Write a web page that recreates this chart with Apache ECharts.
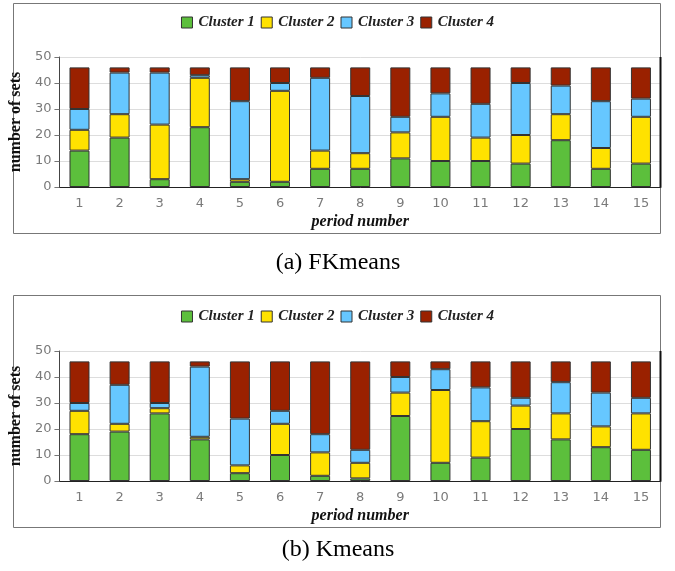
<!DOCTYPE html>
<html>
<head>
<meta charset="utf-8">
<script src="https://cdn.jsdelivr.net/npm/echarts@6/dist/echarts.min.js"></script>
<style>
  html, body { margin: 0; padding: 0; background: #fff; }
  #chart { width: 675px; height: 571px; }
</style>
</head>
<body>
<div id="chart"></div>
<script>
// Period numbers on the x axis
const periods = ['1','2','3','4','5','6','7','8','9','10','11','12','13','14','15'];
const clusterNames = ['Cluster 1', 'Cluster 2', 'Cluster 3', 'Cluster 4'];
const clusterColors = ['#5cbf3c', '#ffe200', '#66c7ff', '#9a2100'];

// (a) FKmeans: number of sets per cluster in each period
const fk_c1 = [14, 19, 3, 23, 2, 2, 7, 7, 11, 10, 10, 9, 18, 7, 9];
const fk_c2 = [8, 9, 21, 19, 1, 35, 7, 6, 10, 17, 9, 11, 10, 8, 18];
const fk_c3 = [8, 16, 20, 1, 30, 3, 28, 22, 6, 9, 13, 20, 11, 18, 7];
const fk_c4 = [16, 2, 2, 3, 13, 6, 4, 11, 19, 10, 14, 6, 7, 13, 12];

// (b) Kmeans: number of sets per cluster in each period
const km_c1 = [18, 19, 26, 16, 3, 10, 2, 1, 25, 7, 9, 20, 16, 13, 12];
const km_c2 = [9, 3, 2, 1, 3, 12, 9, 6, 9, 28, 14, 9, 10, 8, 14];
const km_c3 = [3, 15, 2, 27, 18, 5, 7, 5, 6, 8, 13, 3, 12, 13, 6];
const km_c4 = [16, 9, 16, 2, 22, 19, 28, 34, 6, 3, 10, 14, 8, 12, 14];

const yTicks = { min: 0, max: 50, interval: 10 };

const tickFont = { color: '#7a7a7a', fontSize: 13, fontFamily: 'DejaVu Sans' };
const serif = 'Liberation Serif';

function xAxisFor(gridIndex) {
  return {
    type: 'category', gridIndex, data: periods,
    axisLine: { lineStyle: { color: '#222', width: 1 } },
    axisTick: { alignWithLabel: true, length: 5, lineStyle: { color: '#777' } },
    axisLabel: Object.assign({ margin: 10 }, tickFont),
    name: 'period number', nameLocation: 'middle', nameGap: 27,
    nameTextStyle: { fontFamily: serif, fontStyle: 'italic', fontWeight: 'bold', fontSize: 16, color: '#111' }
  };
}
function yAxisFor(gridIndex) {
  return Object.assign({
    type: 'value', gridIndex,
    axisLine: { show: true, lineStyle: { color: '#444', width: 1 } },
    axisTick: { show: true, length: 5, lineStyle: { color: '#777' } },
    axisLabel: Object.assign({ margin: 8 }, tickFont),
    splitLine: { lineStyle: { color: '#ddd', width: 1 } },
    name: 'number of sets', nameLocation: 'middle', nameGap: 27,
    nameTextStyle: { fontFamily: serif, fontWeight: 'bold', fontSize: 16, color: '#111' }
  }, yTicks);
}

function stackSeries(values, axisIndex, stackName) {
  return values.map((arr, i) => ({
    name: clusterNames[i], type: 'bar', stack: stackName,
    xAxisIndex: axisIndex, yAxisIndex: axisIndex,
    data: arr, barWidth: 20,
    itemStyle: { color: clusterColors[i], borderColor: '#333', borderWidth: 1 }
  }));
}

function legendAt(top) {
  return {
    top, left: 'center', data: clusterNames,
    itemWidth: 11, itemHeight: 11, itemGap: 6,
    icon: 'rect',
    itemStyle: { borderColor: '#333', borderWidth: 1 },
    textStyle: { fontFamily: serif, fontStyle: 'italic', fontWeight: 'bold', fontSize: 15, color: '#222', padding: [0, 0, 0, 1] }
  };
}

function frame(top, height) {
  return { type: 'rect', shape: { x: 13.5, y: top + 0.5, width: 647, height }, style: { fill: 'none', stroke: '#777', lineWidth: 1 }, silent: true, z: -1 };
}
function caption(text, y) {
  return { type: 'text', x: 338, y, style: { text, fill: '#000', font: '24px "Liberation Serif"', textAlign: 'center', textVerticalAlign: 'middle' }, silent: true };
}
function rightEdge(top, height) {
  return { type: 'line', shape: { x1: 660.5, y1: top, x2: 660.5, y2: top + height }, style: { stroke: '#111', lineWidth: 2 }, silent: true, z: 10 };
}

const chart = echarts.init(document.getElementById('chart'), null, { renderer: 'canvas' });
chart.setOption({
  animation: false,
  backgroundColor: '#fff',
  legend: [legendAt(10), legendAt(304)],
  grid: [
    { left: 57, right: 14, top: 57, height: 130 },
    { left: 57, right: 14, top: 351, height: 130 }
  ],
  xAxis: [xAxisFor(0), xAxisFor(1)],
  yAxis: [yAxisFor(0), yAxisFor(1)],
  series: [
    ...stackSeries([fk_c1, fk_c2, fk_c3, fk_c4], 0, 'fk'),
    ...stackSeries([km_c1, km_c2, km_c3, km_c4], 1, 'km')
  ],
  graphic: [
    frame(3, 230), frame(295, 232),
    rightEdge(57, 130), rightEdge(351, 130),
    caption('(a) FKmeans', 263), caption('(b) Kmeans', 550)
  ]
});
</script>
</body>
</html>
